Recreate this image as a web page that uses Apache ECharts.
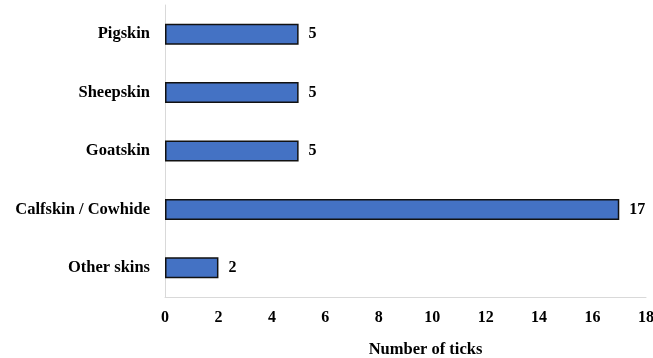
<!DOCTYPE html>
<html>
<head>
<meta charset="utf-8">
<script src="https://cdn.jsdelivr.net/npm/echarts@6/dist/echarts.min.js"></script>
<style>
  html, body { margin: 0; padding: 0; background: #fff; }
  #chart { width: 653px; height: 358px; }
</style>
</head>
<body>
<div id="chart"></div>
<script>
// Leather types (bottom to top) and tick counts per type
const categories = ['Other skins', 'Calfskin / Cowhide', 'Goatskin', 'Sheepskin', 'Pigskin'];
const tickCounts = [2, 17, 5, 5, 5];
const xTicks = { min: 0, max: 18, interval: 2 };
const xAxisTitle = 'Number of ticks';

const font = 'Liberation Serif, Times New Roman, serif';
const chart = echarts.init(document.getElementById('chart'));
chart.setOption({
  animation: false,
  grid: { left: 165, right: 7, top: 5, bottom: 61, containLabel: false, outerBoundsMode: 'none' },
  xAxis: {
    type: 'value',
    min: xTicks.min, max: xTicks.max, interval: xTicks.interval,
    axisLine: { show: true, lineStyle: { color: '#d9d9d9', width: 1 } },
    axisTick: { show: false },
    splitLine: { show: false },
    axisLabel: { color: '#000', fontFamily: font, fontWeight: 'bold', fontSize: 16, margin: 13 },
    name: xAxisTitle,
    nameLocation: 'middle',
    nameGap: 44,
    nameTextStyle: { color: '#000', fontFamily: font, fontWeight: 'bold', fontSize: 16.5, padding: [0, 0, 0, 40] }
  },
  yAxis: {
    type: 'category',
    data: categories,
    axisLine: { show: true, lineStyle: { color: '#d9d9d9', width: 1 } },
    axisTick: { show: false },
    axisLabel: { color: '#000', fontFamily: font, fontWeight: 'bold', fontSize: 16.5, margin: 15 }
  },
  series: [{
    type: 'bar',
    data: tickCounts,
    barWidth: 21,
    itemStyle: { color: '#4472C4', borderColor: '#111', borderWidth: 1.5 },
    label: {
      show: true, position: 'right', distance: 10,
      color: '#000', fontFamily: font, fontWeight: 'bold', fontSize: 16
    }
  }]
});
</script>
</body>
</html>
